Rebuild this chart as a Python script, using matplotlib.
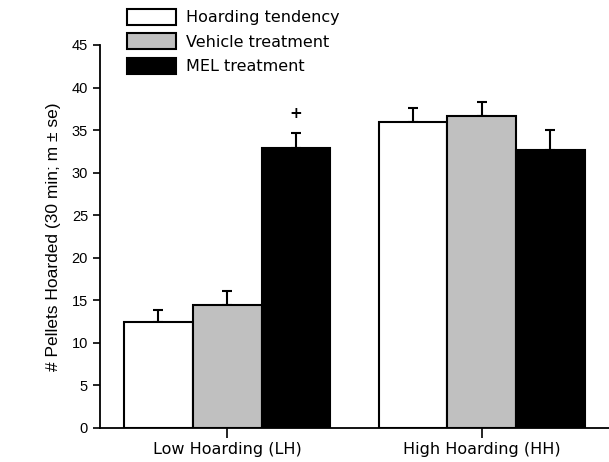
import matplotlib
matplotlib.use("Agg")
import matplotlib.pyplot as plt
import numpy as np

groups = ["Low Hoarding (LH)", "High Hoarding (HH)"]
series = ["Hoarding tendency", "Vehicle treatment", "MEL treatment"]
tendency = [12.5, 36.0]
tendency_se = [1.4, 1.6]
vehicle = [14.5, 36.7]
vehicle_se = [1.6, 1.6]
mel = [32.9, 32.7]
mel_se = [1.8, 2.3]
yticks = [0, 5, 10, 15, 20, 25, 30, 35, 40, 45]

colors = ["white", "#c0c0c0", "black"]

fig = plt.figure(figsize=(6.09, 4.62), dpi=100)
ax = fig.add_axes([0.164, 0.0736, 0.836, 0.829])

x = np.arange(len(groups))
w = 0.27
vals = [tendency, vehicle, mel]
errs = [tendency_se, vehicle_se, mel_se]
handles = []
for i, (v, e, c) in enumerate(zip(vals, errs, colors)):
    b = ax.bar(x + (i - 1) * w, v, width=w, color=c, edgecolor="black",
               linewidth=1.5, label=series[i], zorder=2)
    ax.errorbar(x + (i - 1) * w, v, yerr=[np.zeros(len(e)), e], fmt="none",
                ecolor="black", elinewidth=1.5, capsize=3.5, capthick=1.5, zorder=1)
    handles.append(b)

ax.text(x[0] + w, 37.0, "+", ha="center", va="center", fontsize=11,
        fontweight="bold")

ax.set_xlim(-0.5, 1.5)
ax.set_ylim(0, 45)
ax.set_yticks(yticks)
ax.set_xticks(x)
ax.set_xticklabels(groups, fontsize=11.5, family="DejaVu Sans")
ax.tick_params(axis="y", labelsize=10.5, length=5, width=1.2, direction="out")
ax.tick_params(axis="x", length=7, width=1.2, direction="out", pad=3)
for lab in ax.get_yticklabels():
    lab.set_family("Liberation Sans")
ax.spines["top"].set_visible(False)
ax.spines["right"].set_visible(False)
ax.spines["left"].set_linewidth(1.3)
ax.spines["bottom"].set_linewidth(1.3)
ax.set_ylabel("# Pellets Hoarded (30 min; m \u00b1 se)", fontsize=12.5,
              family="Liberation Sans", labelpad=8)

leg = fig.legend(handles=handles, labels=series, loc="upper left",
                 bbox_to_anchor=(0.187, 1.008), frameon=False, fontsize=11.5,
                 handlelength=3.1, handleheight=1.15, labelspacing=0.5,
                 handletextpad=0.6, borderpad=0.3)

fig.savefig("out.png", dpi=100)
